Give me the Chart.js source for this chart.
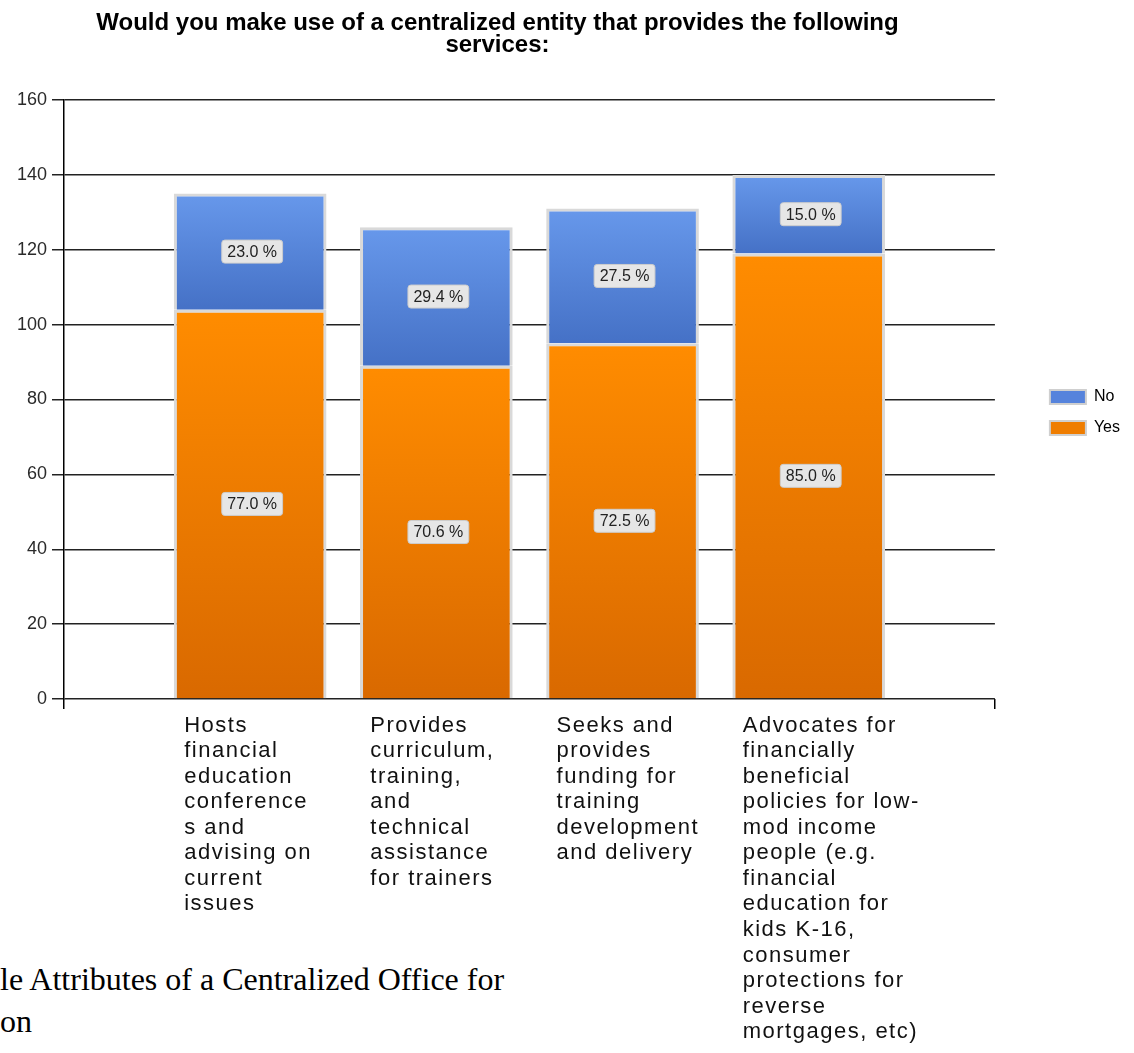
<!DOCTYPE html>
<html>
<head>
<meta charset="utf-8">
<title>Centralized entity services</title>
<script src="https://cdn.jsdelivr.net/npm/chart.js@4.4.1/dist/chart.umd.min.js"></script>
<style>
  html, body { margin: 0; padding: 0; background: #fff; }
  #wrap { position: relative; width: 1134px; height: 1053px; overflow: hidden; }
  #caption {
    position: absolute; left: 0; top: 958px;
    font-family: "Liberation Serif", "Times New Roman", serif;
    font-size: 32px; line-height: 42px; color: #000; white-space: nowrap;
  }
  #chart { position: absolute; left: 0; top: 0; }
</style>
</head>
<body>
<div id="wrap">
  <div id="caption">le Attributes of a Centralized Office for<br>on</div>
  <canvas id="chart" width="1134" height="1053"></canvas>
</div>
<script>
// Survey: would people use a centralized entity offering these services (Yes / No counts)

const chartTitle = [
    'Would you make use of a centralized entity that provides the following',
    'services:'
];

const categories = [
    ['Hosts', 'financial', 'education', 'conference', 's and', 'advising on', 'current', 'issues'],
    ['Provides', 'curriculum,', 'training,', 'and', 'technical', 'assistance', 'for trainers'],
    ['Seeks and', 'provides', 'funding for', 'training', 'development', 'and delivery'],
    ['Advocates for', 'financially', 'beneficial', 'policies for low-', 'mod income', 'people (e.g.',
     'financial', 'education for', 'kids K-16,', 'consumer', 'protections for', 'reverse',
     'mortgages, etc)']
];

const yesCounts = [104, 89, 95, 119];
const noCounts = [31, 37, 36, 21];

const yMax = 160;
const yStep = 20;

const FONT = '"Liberation Sans", Arial, sans-serif';

const totals = yesCounts.map((v, i) => v + noCounts[i]);

// vertical gradient over one stacked segment, light at its top, darker at its base
function segmentFill(topColor, bottomColor) {
    return function (c) {
        const chart = c.chart;
        if (c.type !== 'data' || !chart.scales.y || !chart.chartArea) return bottomColor;
        let start = 0;
        for (let d = 0; d < c.datasetIndex; d++) {
            start += chart.data.datasets[d].data[c.dataIndex].y;
        }
        const end = start + c.raw.y;
        const y = chart.scales.y;
        const g = chart.ctx.createLinearGradient(0, y.getPixelForValue(end), 0, y.getPixelForValue(start));
        g.addColorStop(0, topColor);
        g.addColorStop(1, bottomColor);
        return g;
    };
}

// "77.0 %" style boxes in the middle of each segment
const segmentLabels = {
    id: 'segmentLabels',
    afterDatasetsDraw(chart) {
        const ctx = chart.ctx;
        ctx.save();
        ctx.font = '16px ' + FONT;
        ctx.textAlign = 'center';
        ctx.textBaseline = 'middle';
        chart.data.datasets.forEach((ds, di) => {
            chart.getDatasetMeta(di).data.forEach((bar, i) => {
                const text = (ds.data[i].y / totals[i] * 100).toFixed(1) + ' %';
                const cx = bar.x + 2;
                const cy = (bar.y + bar.base) / 2;
                const w = ctx.measureText(text).width + 11;
                const h = 23;
                ctx.beginPath();
                ctx.roundRect(cx - w / 2, cy - h / 2, w, h, 3);
                ctx.fillStyle = '#e6e6e6';
                ctx.fill();
                ctx.strokeStyle = '#cdcdcd';
                ctx.lineWidth = 1;
                ctx.stroke();
                ctx.fillStyle = '#222';
                ctx.fillText(text, cx, cy + 1);
            });
        });
        ctx.restore();
        // category labels (ticks z:1) are drawn next, with a little tracking
        ctx.letterSpacing = '1.5px';
    }
};

// bold two-line heading centred over the plot + axis block
const topTitle = {
    id: 'topTitle',
    afterDraw(chart) {
        const ctx = chart.ctx;
        ctx.letterSpacing = '0px';
        ctx.save();
        ctx.font = 'bold 24px ' + FONT;
        ctx.fillStyle = '#000';
        ctx.textAlign = 'center';
        ctx.textBaseline = 'alphabetic';
        const cx = chart.chartArea.right / 2;
        chartTitle.forEach((line, i) => ctx.fillText(line, cx, 30 + i * 22));
        ctx.restore();
    }
};

// push the legend away from the plot edge
const legendNudge = {
    id: 'legendNudge',
    afterLayout(chart) {
        const lg = chart.legend;
        lg.left += 40; lg.right += 40;
        lg.top += 13; lg.bottom += 13;
    }
};

const ctx = document.getElementById('chart').getContext('2d');
new Chart(ctx, {
    type: 'bar',
    data: {
        datasets: [
            {
                label: 'Yes',
                data: yesCounts.map((v, i) => ({ x: i + 1, y: v })),
                backgroundColor: segmentFill('#ff8c00', '#d96900'),
                legendColor: '#ef7d00',
                borderColor: '#d9d9d9',
                borderWidth: 3,
                categoryPercentage: 1,
                barPercentage: 0.82
            },
            {
                label: 'No',
                data: noCounts.map((v, i) => ({ x: i + 1, y: v })),
                backgroundColor: segmentFill('#6798eb', '#4571c6'),
                legendColor: '#5683dc',
                borderColor: '#d9d9d9',
                borderWidth: 3,
                categoryPercentage: 1,
                barPercentage: 0.82
            }
        ]
    },
    options: {
        responsive: false,
        animation: false,
        layout: { padding: { top: 100, right: 44, bottom: 0, left: 0 } },
        plugins: {
            title: { display: false },
            tooltip: { enabled: false },
            legend: {
                position: 'right',
                fullSize: false,
                reverse: true,
                labels: {
                    boxWidth: 36,
                    boxHeight: 14,
                    padding: 15,
                    color: '#222',
                    font: { family: FONT, size: 16 },
                    generateLabels: chart => chart.data.datasets.map((ds, i) => ({
                        text: ds.label,
                        fillStyle: ds.legendColor,
                        strokeStyle: '#cfcfcf',
                        lineWidth: 2,
                        hidden: false,
                        datasetIndex: i
                    }))
                }
            }
        },
        scales: {
            x: {
                type: 'linear',
                stacked: true,
                offset: false,
                min: 0,
                max: categories.length + 1,
                afterBuildTicks: s => {
                    s.ticks = [];
                    for (let v = 0; v <= categories.length + 1; v++) s.ticks.push({ value: v });
                },
                afterFit: s => { s.height = 354; },
                border: { display: false },
                grid: {
                    offset: false,
                    drawOnChartArea: false,
                    tickLength: 10,
                    lineWidth: 1.5,
                    color: c => (c.index === 0 || c.index === categories.length + 1) ? '#000' : 'rgba(0,0,0,0)'
                },
                ticks: {
                    z: 1,
                    autoSkip: false,
                    maxRotation: 0,
                    minRotation: 0,
                    align: 'start',
                    labelOffset: -66,
                    padding: 4,
                    color: '#111',
                    font: { family: FONT, size: 22, lineHeight: 1.16 },
                    callback: v => categories[v - 1] || ''
                }
            },
            y: {
                stacked: true,
                min: 0,
                max: yMax,
                afterFit: s => { s.width = 64; },
                border: { color: '#000', width: 1.5 },
                grid: { color: '#222', lineWidth: 1.5, tickLength: 12 },
                ticks: {
                    stepSize: yStep,
                    padding: 5,
                    color: '#2a2a2a',
                    font: { family: FONT, size: 18 }
                }
            }
        }
    },
    plugins: [segmentLabels, topTitle, legendNudge]
});
</script>
</body>
</html>
